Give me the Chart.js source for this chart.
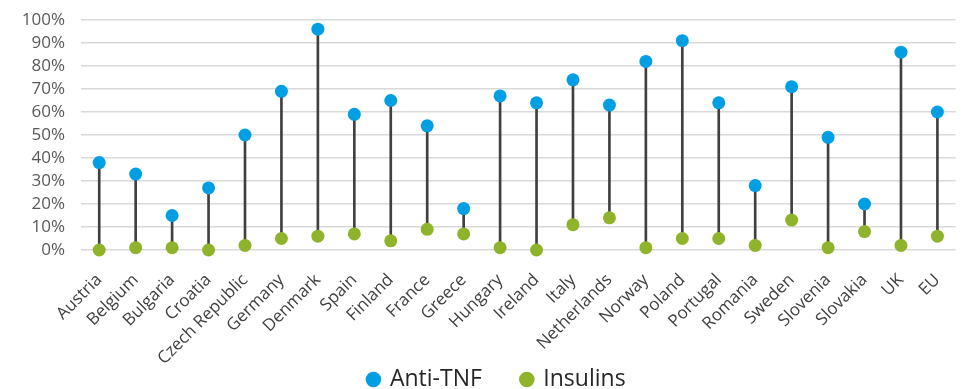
<!DOCTYPE html>
<html>
<head>
<meta charset="utf-8">
<script src="https://cdn.jsdelivr.net/npm/chart.js@4"></script>
<style>
  html, body { margin: 0; padding: 0; background: #fff; }
  #wrap { width: 964px; height: 389px; }
</style>
</head>
<body>
<div id="wrap"><canvas id="dotChart"></canvas></div>
<script>
var countries = ['Austria', 'Belgium', 'Bulgaria', 'Croatia', 'Czech Republic', 'Germany', 'Denmark', 'Spain',
  'Finland', 'France', 'Greece', 'Hungary', 'Ireland', 'Italy', 'Netherlands', 'Norway', 'Poland', 'Portugal',
  'Romania', 'Sweden', 'Slovenia', 'Slovakia', 'UK', 'EU'];
var antiTnf = [38, 33, 15, 27, 50, 69, 96, 59, 65, 54, 18, 67, 64, 74, 63, 82, 91, 64, 28, 71, 49, 20, 86, 60];
var insulins = [0, 1, 1, 0, 2, 5, 6, 7, 4, 9, 7, 1, 0, 11, 14, 1, 5, 5, 2, 13, 1, 8, 2, 6];
var yTicks = [0, 10, 20, 30, 40, 50, 60, 70, 80, 90, 100];

var _chart = null;

// let tick labels spill out of their axis box (legend sits over the x box)
function noLabelClip(scale) {
  scale._computeLabelArea = function () { return undefined; };
}

function buildChart() {
  // thin floating bars = the stems between the two dots
  var stems = insulins.map((v, i) => [v, antiTnf[i]]);
  var fontName = '"Open Sans", "Noto Sans", sans-serif';

  var data = {
    labels: countries,
    datasets: [
      {
        type: 'line',
        label: 'Anti-TNF',
        data: antiTnf,
        showLine: false,
        pointRadius: 6.5,
        pointHoverRadius: 6.5,
        pointBackgroundColor: '#009FE3',
        pointBorderWidth: 0,
        backgroundColor: '#009FE3',
        borderColor: '#009FE3',
        clip: false,
        order: 1
      },
      {
        type: 'line',
        label: 'Insulins',
        data: insulins,
        showLine: false,
        pointRadius: 6.5,
        pointHoverRadius: 6.5,
        pointBackgroundColor: '#8DB42B',
        pointBorderWidth: 0,
        backgroundColor: '#8DB42B',
        borderColor: '#8DB42B',
        clip: false,
        order: 1
      },
      {
        type: 'bar',
        label: 'stem',
        data: stems,
        backgroundColor: '#404040',
        barThickness: 2,
        order: 3
      }
    ]
  };

  var options = {
    responsive: false,
    animation: false,
    // small negative bottom padding pushes the legend to the canvas edge
    layout: { padding: { top: 20, right: 8, left: 38, bottom: -12 } },
    scales: {
      x: {
        grid: { display: false },
        border: { display: false },
        afterFit: function (scale) {
          scale.height = 78;
          noLabelClip(scale);
        },
        ticks: {
          autoSkip: false,
          maxRotation: 45,
          minRotation: 45,
          color: '#404040',
          padding: 12,
          font: { family: fontName, size: 17 }
        }
      },
      y: {
        min: 0,
        max: 100,
        afterBuildTicks: function (scale) {
          scale.ticks = yTicks.map(v => ({ value: v }));
        },
        afterFit: function (scale) {
          scale.width = 43;
          scale.paddingTop = 0;
          scale.paddingBottom = 0;
          noLabelClip(scale);
        },
        border: { display: false },
        grid: { color: '#D9D9D9', lineWidth: 1.5, drawTicks: false },
        ticks: {
          autoSkip: false,
          stepSize: 10,
          color: '#595959',
          padding: 16,
          font: { family: fontName, size: 17 },
          callback: function (value) {
            return value + '%';
          }
        }
      }
    },
    plugins: {
      tooltip: { enabled: false },
      legend: {
        position: 'bottom',
        labels: {
          usePointStyle: true,
          pointStyle: 'circle',
          boxWidth: 10,
          boxHeight: 11,
          padding: 40,
          color: '#262626',
          font: { family: fontName, size: 23 },
          filter: function (item) {
            return item.text !== 'stem';
          }
        }
      }
    }
  };

  var ctx = document.getElementById('dotChart');
  ctx.width = 964;
  ctx.height = 389;
  _chart = new Chart(ctx, {
    data: data,
    options: options
  });
}

buildChart();
</script>
</body>
</html>
